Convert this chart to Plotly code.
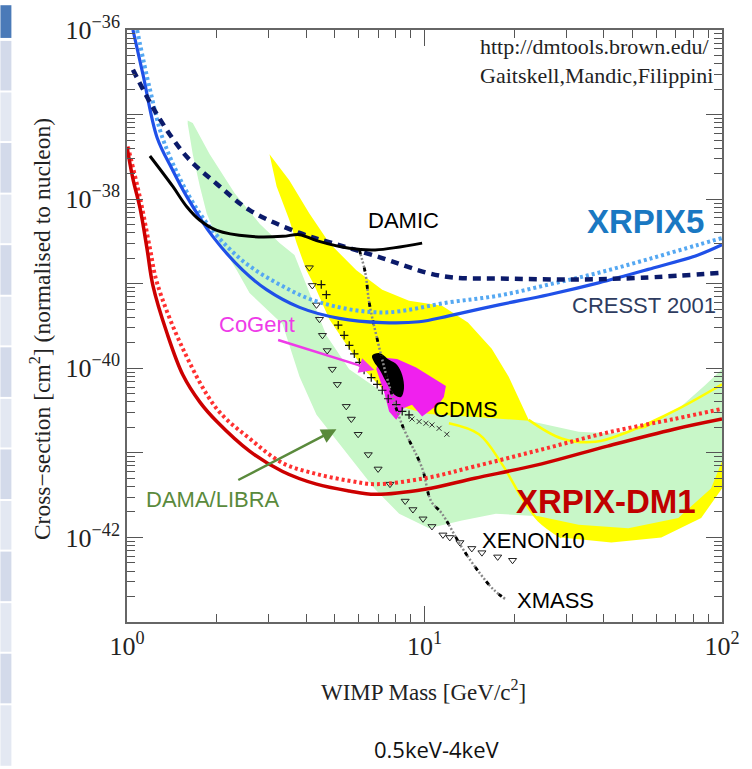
import numpy as np
import plotly.graph_objects as go

# ---------------- data (log10 of WIMP mass [GeV], log10 of cross-section [cm^2]) ----------------
xrpix5_lgm = [0.020, 0.054, 0.101, 0.151, 0.201, 0.288, 0.389, 0.469, 0.580, 0.714, 0.858, 0.982, 1.082, 1.250, 1.417, 1.585, 1.752, 1.920, 2.000]
xrpix5_lgs = [-36.00, -36.53, -37.27, -37.64, -37.97, -38.44, -38.84, -39.07, -39.28, -39.41, -39.46, -39.45, -39.38, -39.25, -39.13, -38.99, -38.83, -38.66, -38.54]

xrpix5b_lgm = [0.034, 0.077, 0.127, 0.245, 0.379, 0.513, 0.647, 0.858, 1.082, 1.250, 1.417, 1.585, 1.752, 1.920, 2.000]
xrpix5b_lgs = [-36.00, -36.70, -37.35, -38.17, -38.70, -39.01, -39.22, -39.34, -39.22, -39.14, -39.01, -38.87, -38.71, -38.54, -38.46]

cresst_lgm = [0.020, 0.101, 0.201, 0.302, 0.412, 0.580, 0.690, 0.834, 1.059, 1.280, 1.504, 1.729, 2.000]
cresst_lgs = [-36.47, -37.00, -37.50, -37.82, -38.13, -38.40, -38.52, -38.67, -38.91, -38.94, -38.95, -38.93, -38.87]

damic_lgm = [0.077, 0.154, 0.201, 0.245, 0.302, 0.412, 0.523, 0.580, 0.637, 0.747, 0.834, 0.992]
damic_lgs = [-37.49, -37.85, -38.09, -38.25, -38.37, -38.44, -38.44, -38.42, -38.49, -38.58, -38.60, -38.52]

dm1_lgm = [0.000, 0.020, 0.044, 0.067, 0.087, 0.134, 0.188, 0.245, 0.302, 0.412, 0.523, 0.637, 0.747, 0.834, 1.002, 1.169, 1.394, 1.615, 1.839, 2.000]
dm1_lgs = [-37.38, -37.76, -38.11, -38.58, -39.02, -39.58, -40.08, -40.40, -40.63, -40.98, -41.22, -41.37, -41.45, -41.49, -41.43, -41.30, -41.13, -40.92, -40.72, -40.60]

dm1b_lgm = [0.003, 0.044, 0.077, 0.101, 0.188, 0.302, 0.412, 0.523, 0.637, 0.747, 0.834, 1.002, 1.169, 1.394, 1.615, 1.839, 2.000]
dm1b_lgs = [-37.38, -37.99, -38.58, -38.99, -39.77, -40.48, -40.83, -41.12, -41.25, -41.33, -41.37, -41.30, -41.16, -40.96, -40.76, -40.60, -40.48]

dama_lgm = [0.204, 0.221, 0.278, 0.362, 0.446, 0.513, 0.563, 0.603, 0.670, 0.747, 0.858, 0.891, 1.015, 1.183, 1.350, 1.518,
            1.628, 1.742, 1.853, 1.943, 2.000, 2.000, 1.963, 1.853, 1.685, 1.518, 1.384, 1.240, 1.126, 1.015, 0.915, 0.834,
            0.747, 0.637, 0.580, 0.523, 0.412, 0.369, 0.302, 0.268, 0.245, 0.221, 0.204]
dama_lgs = [-37.07, -37.10, -37.47, -37.93, -38.29, -38.52, -38.66, -39.02, -39.61, -40.01, -40.28, -40.43, -40.54, -40.58, -40.62, -40.75,
            -40.77, -40.71, -40.48, -40.20, -40.01, -41.10, -41.42, -41.77, -41.89, -41.85, -41.75, -41.72, -41.80, -41.89, -41.72, -41.43,
            -41.04, -40.55, -40.10, -39.48, -39.11, -38.84, -38.46, -38.17, -37.85, -37.47, -37.11]

yel_lgm = [0.479, 0.546, 0.613, 0.680, 0.771, 0.858, 0.948, 1.059, 1.146, 1.226, 1.283, 1.323, 1.350, 1.461, 1.575, 1.685, 1.853, 2.000,
           2.000, 1.930, 1.796, 1.628, 1.461, 1.384, 1.327, 1.260, 1.183, 1.082, 0.982, 0.891, 0.858, 0.804, 0.747, 0.680, 0.630,
           0.603, 0.570, 0.546, 0.503, 0.479]
yel_lgs = [-37.47, -37.78, -38.17, -38.52, -38.84, -39.07, -39.20, -39.26, -39.46, -39.77, -40.10, -40.40, -40.61, -40.83, -40.87, -40.75, -40.48, -40.19,
           -41.42, -41.77, -42.00, -42.06, -42.00, -41.80, -41.53, -41.13, -40.78, -40.65, -40.54, -40.40, -40.24, -40.04, -39.77, -39.42, -39.02,
           -38.84, -38.52, -38.25, -37.85, -37.47]

yel_top_lgm = [1.350, 1.461, 1.575, 1.685, 1.853, 2.000]
yel_top_lgs = [-40.61, -40.83, -40.87, -40.75, -40.48, -40.19]
yel_curve_lgm = [1.082, 1.183, 1.260, 1.327, 1.384, 1.461]
yel_curve_lgs = [-40.65, -40.78, -41.13, -41.53, -41.80, -42.00]

cogent_lgm = [0.848, 0.908, 0.972, 1.072, 1.065, 1.049, 0.992, 0.958, 0.931, 0.905, 0.881, 0.864, 0.838, 0.848]
cogent_lgs = [-39.87, -39.89, -39.99, -40.21, -40.34, -40.42, -40.57, -40.43, -40.47, -40.61, -40.51, -40.28, -40.01, -39.87]

blob_lgm = [0.824, 0.848, 0.881, 0.908, 0.925, 0.931, 0.921, 0.898, 0.871, 0.848, 0.831, 0.824]
blob_lgs = [-39.85, -39.82, -39.90, -39.96, -40.08, -40.24, -40.34, -40.31, -40.16, -40.01, -39.93, -39.85]

xmass_lgm = [0.781, 0.801, 0.814, 0.838, 0.881, 0.925, 0.992, 1.022, 1.059, 1.126, 1.183, 1.233, 1.276]
xmass_lgs = [-38.60, -38.87, -39.22, -39.61, -40.20, -40.67, -41.18, -41.57, -41.72, -42.12, -42.41, -42.62, -42.74]

xenon_lgm = [0.613, 0.623, 0.637, 0.647, 0.657, 0.673, 0.690, 0.707, 0.737, 0.754, 0.777, 0.811, 0.844, 0.884, 0.935, 0.961,
             0.995, 1.025, 1.062, 1.085, 1.119, 1.159, 1.193, 1.246, 1.296]
xenon_lgs = [-38.81, -39.02, -39.25, -39.42, -39.61, -39.79, -40.01, -40.19, -40.45, -40.60, -40.78, -41.02, -41.19, -41.37, -41.57, -41.67,
             -41.78, -41.87, -41.97, -42.00, -42.06, -42.13, -42.18, -42.23, -42.27]

plus_lgm = [0.653, 0.670, 0.710, 0.730, 0.747, 0.764, 0.781, 0.797, 0.821, 0.841, 0.858, 0.878, 0.905, 0.925, 0.948]
plus_lgs = [-39.01, -39.13, -39.49, -39.61, -39.73, -39.83, -39.93, -40.02, -40.11, -40.19, -40.26, -40.36, -40.43, -40.51, -40.55]

cross_lgm = [0.958, 0.982, 1.005, 1.025, 1.049, 1.075]
cross_lgs = [-40.60, -40.63, -40.65, -40.67, -40.71, -40.78]

x_tick_vals = [1, 10, 100]
x_tick_text = ["10<sup>0</sup>", "10<sup>1</sup>", "10<sup>2</sup>"]
y_decades = list(range(-43, -35))
y_tick_text = ["10<sup>\u2212%d</sup>" % (-e) if e % 2 == 0 else "" for e in y_decades]


def P(a):
    return [10.0 ** v for v in a]


SERIF = "Liberation Serif"
SANS = "Liberation Sans"

fig = go.Figure()

# filled regions
fig.add_trace(go.Scatter(x=P(yel_lgm), y=P(yel_lgs), mode="lines", fill="toself",
                         fillcolor="#ffff00", line=dict(width=0), hoverinfo="skip"))
fig.add_trace(go.Scatter(x=P(dama_lgm), y=P(dama_lgs), mode="lines", fill="toself",
                         fillcolor="#c8f7c8", line=dict(width=0), hoverinfo="skip"))
fig.add_trace(go.Scatter(x=P(yel_top_lgm), y=P(yel_top_lgs), mode="lines",
                         line=dict(color="#ffff00", width=2.5, shape="spline")))
fig.add_trace(go.Scatter(x=P(yel_curve_lgm), y=P(yel_curve_lgs), mode="lines",
                         line=dict(color="#ffff00", width=2.5, shape="spline")))
fig.add_trace(go.Scatter(x=P(cogent_lgm), y=P(cogent_lgs), mode="lines", fill="toself",
                         fillcolor="#f020ee", line=dict(width=0)))
fig.add_trace(go.Scatter(x=P(blob_lgm), y=P(blob_lgs), mode="lines", fill="toself",
                         fillcolor="#000000", line=dict(width=0, shape="spline")))

# XENON10 triangles and other markers
fig.add_trace(go.Scatter(x=P(xenon_lgm), y=P(xenon_lgs), mode="markers",
                         marker=dict(symbol="triangle-down-open", size=7, color="#222",
                                     line=dict(width=1, color="#222"))))
fig.add_trace(go.Scatter(x=P(plus_lgm), y=P(plus_lgs), mode="markers",
                         marker=dict(symbol="cross-thin", size=6, line=dict(width=1.2, color="#111"))))
fig.add_trace(go.Scatter(x=P(cross_lgm), y=P(cross_lgs), mode="markers",
                         marker=dict(symbol="x-thin", size=5, line=dict(width=1, color="#333"))))

# XMASS
fig.add_trace(go.Scatter(x=P(xmass_lgm), y=P(xmass_lgs), mode="lines",
                         line=dict(color="#888", width=2.5, dash="2px,2px", shape="spline")))
fig.add_trace(go.Scatter(x=P(xmass_lgm), y=P(xmass_lgs), mode="lines",
                         line=dict(color="#000", width=2.8, dash="4px,14px", shape="spline")))

# XRPIX-DM1
fig.add_trace(go.Scatter(x=P(dm1b_lgm), y=P(dm1b_lgs), mode="lines",
                         line=dict(color="#ff3030", width=4, dash="3px,3px", shape="spline")))
fig.add_trace(go.Scatter(x=P(dm1_lgm), y=P(dm1_lgs), mode="lines",
                         line=dict(color="#cc0000", width=3.5, shape="spline")))

# XRPIX5
fig.add_trace(go.Scatter(x=P(xrpix5b_lgm), y=P(xrpix5b_lgs), mode="lines",
                         line=dict(color="#55a8f2", width=4, dash="3px,3px", shape="spline")))
fig.add_trace(go.Scatter(x=P(xrpix5_lgm), y=P(xrpix5_lgs), mode="lines",
                         line=dict(color="#1f50e8", width=3.2, shape="spline")))

# CRESST 2001
fig.add_trace(go.Scatter(x=P(cresst_lgm), y=P(cresst_lgs), mode="lines",
                         line=dict(color="#0b1a6a", width=4.5, dash="8px,6px", shape="spline")))

# DAMIC
fig.add_trace(go.Scatter(x=P(damic_lgm), y=P(damic_lgs), mode="lines",
                         line=dict(color="#000000", width=3, shape="spline")))

annotations = []


def label(text, lx, ly, color="#000", size=22, bold=False):
    t = "<b>%s</b>" % text if bold else text
    annotations.append(dict(x=lx, y=ly, xref="x", yref="y", text=t, showarrow=False,
                            font=dict(family=SANS, size=size, color=color),
                            xanchor="center", yanchor="middle"))


label("DAMIC", 0.931, -38.25)
label("XRPIX5", 1.742, -38.26, color="#1a78c2", size=33, bold=True)
label("CRESST 2001", 1.739, -39.26, color="#2e3c60")
label("CoGent", 0.436, -39.48, color="#ee3be8")
label("CDMS", 1.139, -40.49)
label("DAMA/LIBRA", 0.288, -41.55, color="#5a8a3c")
label("XRPIX-DM1", 1.611, -41.57, color="#c00000", size=33, bold=True)
label("XENON10", 1.367, -42.04)
label("XMASS", 1.441, -42.74)

# arrows
annotations.append(dict(x=0.831, y=-40.02, ax=0.503, ay=-39.66, xref="x", yref="y", axref="x", ayref="y",
                        text="", showarrow=True, arrowhead=2, arrowsize=1.2, arrowwidth=2.5, arrowcolor="#ee3be8"))
annotations.append(dict(x=0.704, y=-40.72, ax=0.369, ay=-41.33, xref="x", yref="y", axref="x", ayref="y",
                        text="", showarrow=True, arrowhead=2, arrowsize=1.2, arrowwidth=2.5, arrowcolor="#5a8a3c"))

# credit text
annotations.append(dict(x=0.988, y=0.996, xref="paper", yref="paper", xanchor="right", yanchor="top",
                        text="http://dmtools.brown.edu/<br>Gaitskell,Mandic,Filippini", showarrow=False, align="left",
                        font=dict(family=SERIF, size=22, color="#222")))
# axis titles
annotations.append(dict(x=0.499, y=-0.115, xref="paper", yref="paper", xanchor="center", yanchor="middle",
                        text="WIMP Mass [GeV/c<sup>2</sup>]", showarrow=False,
                        font=dict(family=SERIF, size=23, color="#222")))
annotations.append(dict(x=-0.146, y=0.495, xref="paper", yref="paper", xanchor="center", yanchor="middle",
                        text="Cross\u2212section [cm<sup>2</sup>] (normalised to nucleon)", showarrow=False, textangle=-90,
                        font=dict(family=SERIF, size=23.5, color="#222")))
annotations.append(dict(x=0.521, y=-0.215, xref="paper", yref="paper", xanchor="center", yanchor="middle",
                        text="0.5keV-4keV", showarrow=False,
                        font=dict(family="Open Sans", size=22, color="#111")))

# left slide-panel strip (decoration)
shapes = []
plot_w, plot_h = 597.0, 597.0
def px2paper_x(px):
    return (px - 127) / plot_w
def py2paper_y(py):
    return (622 - py) / plot_h
shapes.append(dict(type="rect", xref="paper", yref="paper", x0=px2paper_x(0), x1=px2paper_x(11),
                   y0=py2paper_y(33), y1=py2paper_y(0), fillcolor="#4a7ab8", line=dict(width=0), layer="below"))
edges = [36, 88, 139, 191, 242, 294, 345, 397, 448, 500, 551, 603, 654, 706, 769]
for i in range(len(edges) - 1):
    shapes.append(dict(type="rect", xref="paper", yref="paper", x0=px2paper_x(0), x1=px2paper_x(11),
                       y0=py2paper_y(edges[i + 1] - 2), y1=py2paper_y(edges[i]),
                       fillcolor="#d3daea" if i % 2 == 0 else "#e3e8f2", line=dict(width=0), layer="below"))

fig.update_layout(
    width=752, height=769,
    margin=dict(l=127, r=28, t=25, b=147),
    plot_bgcolor="white", paper_bgcolor="white",
    showlegend=False,
    annotations=annotations,
    shapes=shapes,
)
fig.update_xaxes(type="log", range=[0, 2], showline=True, linecolor="#666", linewidth=1.5, mirror="ticks",
                 ticks="inside", ticklen=16, tickwidth=1.2, tickcolor="#555",
                 tickvals=x_tick_vals, ticktext=x_tick_text,
                 tickfont=dict(family=SERIF, size=26, color="#222"),
                 minor=dict(ticks="inside", ticklen=8, tickcolor="#555", tickwidth=1.2,
                            tickvals=[k * 10.0 ** e for e in (0, 1) for k in range(2, 10)]),
                 showgrid=False, zeroline=False)
fig.update_yaxes(type="log", range=[-43, -36], showline=True, linecolor="#666", linewidth=1.5, mirror="ticks",
                 ticks="inside", ticklen=16, tickwidth=1.2, tickcolor="#555",
                 tickvals=[10.0 ** e for e in y_decades], ticktext=y_tick_text,
                 tickfont=dict(family=SERIF, size=26, color="#222"),
                 minor=dict(ticks="inside", ticklen=8, tickcolor="#555", tickwidth=1.2,
                            tickvals=[k * 10.0 ** e for e in range(-43, -36) for k in range(2, 10)]),
                 showgrid=False, zeroline=False)

fig.write_html("out.html")
